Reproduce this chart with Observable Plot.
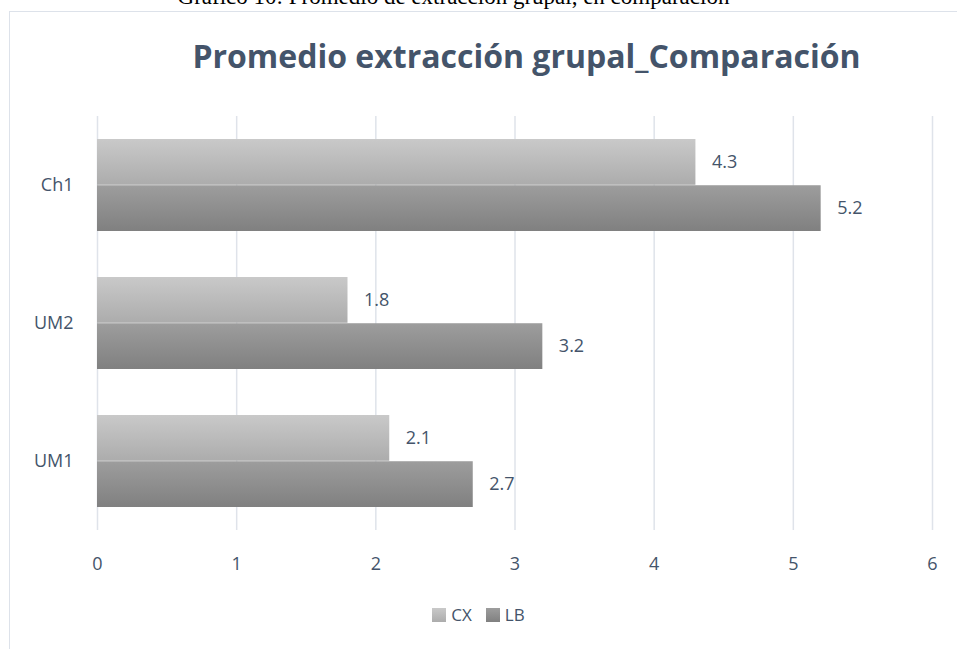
<!DOCTYPE html>
<html>
<head>
<meta charset="utf-8">
<script src="https://cdn.jsdelivr.net/npm/d3@7"></script>
<script src="https://cdn.jsdelivr.net/npm/@observablehq/plot@0.6"></script>
<style>
  html, body { margin: 0; padding: 0; background: #fff; }
  #wrap { position: relative; width: 957px; height: 649px; overflow: hidden; background: #fff; }
  #caption { position: absolute; left: -50px; width: 1007px; top: -15px; text-align: center;
    font-family: "Liberation Serif", "DejaVu Serif", serif; font-size: 23px; line-height: 24px; color: #000; }
  #frame { position: absolute; left: 9px; top: 11px; width: 1000px; height: 700px;
    border: 1px solid #dde2ea; box-sizing: border-box; }
  #title { position: absolute; left: 0; width: 1053px; top: 35px; text-align: center;
    font-family: "Open Sans", sans-serif; font-weight: bold; font-size: 32px; color: #44546a; line-height: 42px; }
  #chart { position: absolute; left: 0; top: 0; }
  #legend { position: absolute; left: 0; width: 957px; top: 603px; text-align: center;
    font-family: "Open Sans", sans-serif; font-size: 17px; color: #44546a; }
  #legend span.item { display: inline-flex; align-items: center; margin: 0 7px; }
  #legend span.sw { display: inline-block; width: 14px; height: 14px; margin-right: 5px; }
</style>
</head>
<body>
<div id="wrap">
  <div id="frame"></div>
  <div id="caption">Gráfico 10: Promedio de extracción grupal, en comparación</div>
  <div id="title">Promedio extracción grupal_Comparación</div>
  <div id="chart"></div>
  <div id="legend"></div>
</div>
<script>
const categories = ["Ch1", "UM2", "UM1"];
const cxValues = [4.3, 1.8, 2.1];
const lbValues = [5.2, 3.2, 2.7];
const seriesNames = ["CX", "LB"];
const xTicks = [0, 1, 2, 3, 4, 5, 6];

const gradients = {
  CX: ["#c9c9c9", "#acacac"],
  LB: ["#9d9d9d", "#808080"]
};

const W = 957, H = 600, mt = 116, mb = 70, ml = 97, mr = 25;
const padIn = 0.33, padOut = 0.165;
const step = (H - mt - mb) / (categories.length - padIn + 2 * padOut);
const half = step * (1 - padIn) / 2;

const data = categories.map((c, i) => ({category: c, CX: cxValues[i], LB: lbValues[i]}));

const plot = Plot.plot({
  width: W, height: H,
  marginTop: mt, marginBottom: mb, marginLeft: ml, marginRight: mr,
  style: {background: "transparent", fontFamily: "Open Sans, sans-serif", fontSize: "18px", color: "#44546a"},
  x: {domain: [0, 6], ticks: xTicks, tickFormat: "d", tickSize: 0, tickPadding: 27, label: null},
  y: {domain: categories, paddingInner: padIn, paddingOuter: padOut, tickSize: 0, tickPadding: 24, label: null},
  marks: [
    Plot.ruleX(xTicks, {stroke: "#dfe3ea", strokeWidth: 1.5}),
    Plot.barX(data, {x: "CX", y: "category", fill: "url(#gcx)", insetBottom: half}),
    Plot.barX(data, {x: "LB", y: "category", fill: "url(#glb)", insetTop: half}),
    Plot.text(data, {x: "CX", y: "category", text: d => d.CX.toFixed(1), dx: 16, dy: -half / 2,
      textAnchor: "start", fill: "#44546a", fontSize: 18}),
    Plot.text(data, {x: "LB", y: "category", text: d => d.LB.toFixed(1), dx: 16, dy: half / 2,
      textAnchor: "start", fill: "#44546a", fontSize: 18})
  ]
});

const svg = d3.select(plot);
const defs = svg.insert("defs", ":first-child");
seriesNames.forEach(s => {
  const g = defs.append("linearGradient").attr("id", "g" + s.toLowerCase())
    .attr("x1", 0).attr("y1", 0).attr("x2", 0).attr("y2", 1);
  g.append("stop").attr("offset", "0%").attr("stop-color", gradients[s][0]);
  g.append("stop").attr("offset", "100%").attr("stop-color", gradients[s][1]);
});
document.getElementById("chart").appendChild(plot);

const legend = document.getElementById("legend");
seriesNames.forEach(s => {
  const item = document.createElement("span");
  item.className = "item";
  const sw = document.createElement("span");
  sw.className = "sw";
  sw.style.background = `linear-gradient(${gradients[s][0]}, ${gradients[s][1]})`;
  item.appendChild(sw);
  item.appendChild(document.createTextNode(s));
  legend.appendChild(item);
});
</script>
</body>
</html>
